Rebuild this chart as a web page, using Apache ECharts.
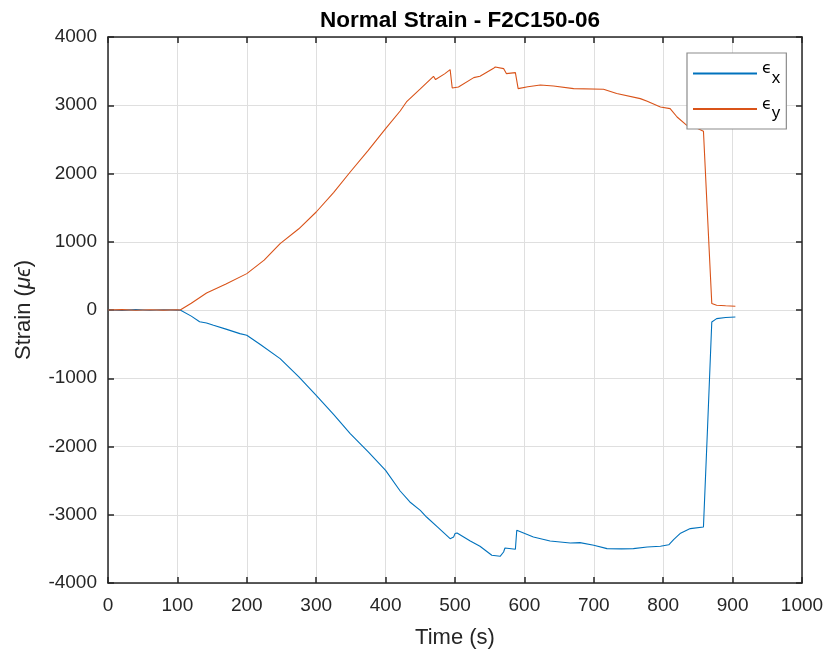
<!DOCTYPE html>
<html>
<head>
<meta charset="utf-8">
<script src="https://cdn.jsdelivr.net/npm/echarts@6/dist/echarts.min.js"></script>
<style>html,body{margin:0;padding:0;background:#fff;}#c{width:829px;height:657px;}</style>
</head>
<body>
<div id="c"></div>
<script>
// Data
var exTime = [0, 20, 40, 60, 80, 100, 104, 120, 132, 142, 152, 170, 190, 200, 220, 248, 275, 300, 325, 349, 375, 400, 421, 435, 450, 459, 475, 493, 498, 500, 503, 522, 536, 553, 565, 570, 572, 587, 589, 591, 613, 637, 666, 680, 700, 719, 740, 757, 777, 796, 808, 815, 825, 839, 858, 864, 870, 877, 890, 904];
var exVals = [0, -5, 5, -3, 4, -2, 0, -90, -171, -190, -224, -280, -346, -370, -510, -712, -980, -1250, -1530, -1811, -2080, -2349, -2652, -2813, -2935, -3033, -3180, -3350, -3326, -3276, -3267, -3385, -3462, -3594, -3609, -3546, -3487, -3506, -3228, -3213, -3326, -3385, -3414, -3408, -3448, -3496, -3500, -3496, -3473, -3462, -3440, -3364, -3270, -3203, -3180, -1700, -176, -127, -110, -102];
var eyTime = [0, 20, 40, 60, 80, 100, 104, 120, 142, 170, 200, 225, 248, 275, 300, 325, 349, 375, 400, 421, 430, 450, 469, 472, 485, 493, 496, 505, 527, 536, 555, 558, 570, 574, 587, 591, 605, 623, 642, 671, 714, 733, 767, 777, 796, 810, 820, 834, 845, 858, 863, 870, 877, 890, 904];
var eyVals = [0, 5, -3, 4, -2, 3, 0, 100, 249, 380, 533, 730, 973, 1190, 1436, 1720, 2022, 2340, 2657, 2916, 3048, 3240, 3424, 3376, 3460, 3522, 3253, 3267, 3405, 3424, 3537, 3560, 3537, 3464, 3478, 3244, 3270, 3297, 3282, 3244, 3234, 3171, 3097, 3058, 2974, 2950, 2828, 2706, 2680, 2620, 1559, 94, 70, 62, 54];
var xTicks = [0, 100, 200, 300, 400, 500, 600, 700, 800, 900, 1000];
var yTicks = [-4000, -3000, -2000, -1000, 0, 1000, 2000, 3000, 4000];

function pairs(t, v) { return t.map(function (x, i) { return [x, v[i]]; }); }
function plain(v) { return String(v); }

var chart = echarts.init(document.getElementById('c'), null, { renderer: 'canvas' });
var axisCol = '#262626';
var fontFam = '"Liberation Sans", Arial, sans-serif';
var greekFam = '"DejaVu Sans", sans-serif';
var gridLine = { show: true, lineStyle: { color: '#dfdfdf', width: 1 } };

chart.setOption({
  animation: false,
  backgroundColor: '#ffffff',
  title: {
    text: 'Normal Strain - F2C150-06',
    left: 455, top: 4, textAlign: 'center',
    textStyle: { fontFamily: fontFam, fontWeight: 'bold', fontSize: 22.5, color: '#000' }
  },
  grid: { left: 108, right: 27, top: 37, bottom: 74, containLabel: false },
  legend: {
    orient: 'vertical',
    left: 687, top: 53,
    z: 10,
    backgroundColor: '#ffffff',
    borderColor: '#8c8c8c', borderWidth: 1.2, borderRadius: 0,
    padding: [8, 6, 7, 6],
    itemGap: 10,
    itemWidth: 64, itemHeight: 2,
    icon: 'rect',
    data: ['ex', 'ey'],
    formatter: function (n) { return n === 'ex' ? '{e|ϵ}{s|x}' : '{e|ϵ}{s|y}'; },
    textStyle: {
      color: '#000', fontFamily: fontFam,
      rich: {
        e: { fontSize: 16, color: '#000', fontFamily: greekFam, height: 26, verticalAlign: 'top', padding: [0, 0, 8, 0] },
        s: { fontSize: 17, color: '#000', fontFamily: fontFam, height: 26, verticalAlign: 'bottom', padding: [9, 0, 0, 0] }
      }
    }
  },
  xAxis: [{
    type: 'value', min: 0, max: 1000, interval: 100,
    name: 'Time (s)', nameLocation: 'middle', nameGap: 44,
    nameTextStyle: { fontFamily: fontFam, fontSize: 22, color: axisCol },
    axisLine: { show: true, onZero: false, lineStyle: { color: axisCol, width: 1.5 } },
    axisTick: { show: true, inside: true, length: 6, lineStyle: { color: axisCol, width: 1.5 } },
    axisLabel: { fontFamily: fontFam, fontSize: 19, color: axisCol, margin: 13, formatter: plain,
      customValues: xTicks },
    splitLine: gridLine
  }, {
    type: 'value', min: 0, max: 1000, interval: 100, position: 'top',
    axisLine: { show: true, onZero: false, lineStyle: { color: axisCol, width: 1.5 } },
    axisTick: { show: true, inside: true, length: 6, lineStyle: { color: axisCol, width: 1.5 } },
    axisLabel: { show: false }, splitLine: { show: false }
  }],
  yAxis: [{
    type: 'value', min: -4000, max: 4000, interval: 1000,
    name: 'Strain ({i|μϵ})', nameLocation: 'middle', nameGap: 73, nameRotate: 90,
    nameTextStyle: { fontFamily: fontFam, fontSize: 22, color: axisCol,
      rich: { i: { fontFamily: fontFam, fontSize: 22, fontStyle: 'italic', color: axisCol } } },
    axisLine: { show: true, onZero: false, lineStyle: { color: axisCol, width: 1.5 } },
    axisTick: { show: true, inside: true, length: 6, lineStyle: { color: axisCol, width: 1.5 } },
    axisLabel: { fontFamily: fontFam, fontSize: 19, color: axisCol, margin: 11, formatter: plain,
      customValues: yTicks },
    splitLine: gridLine
  }, {
    type: 'value', min: -4000, max: 4000, interval: 1000, position: 'right',
    axisLine: { show: true, onZero: false, lineStyle: { color: axisCol, width: 1.5 } },
    axisTick: { show: true, inside: true, length: 6, lineStyle: { color: axisCol, width: 1.5 } },
    axisLabel: { show: false }, splitLine: { show: false }
  }],
  series: [{
    name: 'ex', type: 'line', data: pairs(exTime, exVals),
    showSymbol: false, symbol: 'none', smooth: false,
    lineStyle: { color: '#0072BD', width: 1.1 }, itemStyle: { color: '#0072BD' }
  }, {
    name: 'ey', type: 'line', data: pairs(eyTime, eyVals),
    showSymbol: false, symbol: 'none', smooth: false,
    lineStyle: { color: '#D95319', width: 1.1 }, itemStyle: { color: '#D95319' }
  }]
});
</script>
</body>
</html>
